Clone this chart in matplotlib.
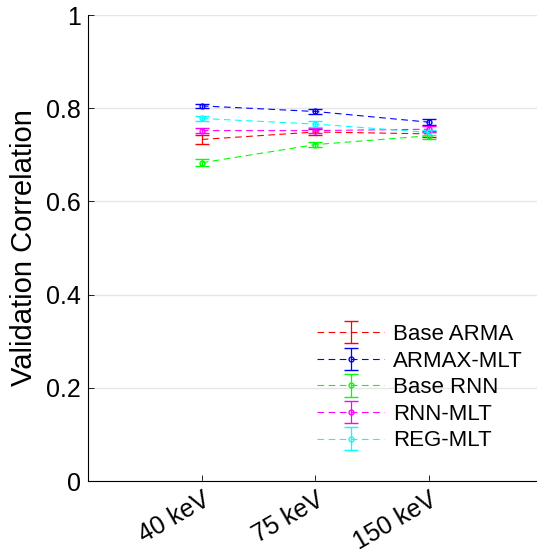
import matplotlib.pyplot as plt
from matplotlib.transforms import ScaledTranslation

plt.rcParams['font.family'] = ['Liberation Sans', 'DejaVu Sans']

energies = ['40 keV', '75 keV', '150 keV']
series_names = ['Base ARMA', 'ARMAX-MLT', 'Base RNN', 'RNN-MLT', 'REG-MLT']
colors = ['#ff0000', '#0000ff', '#00ff00', '#ff00ff', '#00ffff']
markers = ['', 'o', 'o', 'o', 'o']

base_arma = [0.733, 0.749, 0.745]
armax_mlt = [0.805, 0.793, 0.770]
base_rnn = [0.683, 0.722, 0.741]
rnn_mlt = [0.752, 0.752, 0.755]
reg_mlt = [0.778, 0.766, 0.748]

base_arma_err = [0.009, 0.006, 0.007]
armax_mlt_err = [0.005, 0.006, 0.007]
base_rnn_err = [0.007, 0.006, 0.007]
rnn_mlt_err = [0.006, 0.006, 0.006]
reg_mlt_err = [0.006, 0.006, 0.006]

values = [base_arma, armax_mlt, base_rnn, rnn_mlt, reg_mlt]
errors = [base_arma_err, armax_mlt_err, base_rnn_err, rnn_mlt_err, reg_mlt_err]

fig = plt.figure(figsize=(5.37, 5.57), dpi=100)
ax = fig.add_axes([0.164, 0.1364, 0.847, 0.8366])

x = [1, 2, 3]
for name, vals, errs, c, m in zip(series_names, values, errors, colors, markers):
    ax.errorbar(x, vals, yerr=errs, color=c, linestyle=(0, (6, 4)), linewidth=0.8,
                marker=m, markersize=3.5, markerfacecolor='none', markeredgewidth=1,
                capsize=5, elinewidth=0.9, capthick=0.9, label=name)

ax.set_xlim(0, 4)
ax.set_ylim(0, 1)
ax.set_xticks(x)
ax.set_xticklabels(energies, rotation=30, ha='right', rotation_mode='anchor', fontsize=18)
# nudge the rotated labels a bit to the right, like the original
shift = ScaledTranslation(7 / 100, 0, fig.dpi_scale_trans)
for lbl in ax.get_xticklabels():
    lbl.set_transform(lbl.get_transform() + shift)
ax.set_yticks([0, 0.2, 0.4, 0.6, 0.8, 1])
ax.set_yticklabels(['0', '0.2', '0.4', '0.6', '0.8', '1'], fontsize=18)
ax.tick_params(direction='in', length=4, width=0.6, pad=5)
ax.set_ylabel('Validation Correlation', fontsize=21, labelpad=6)
ax.yaxis.grid(True, color='#e6e6e6', linewidth=1)
ax.set_axisbelow(True)
ax.spines['top'].set_visible(False)
ax.spines['right'].set_visible(False)

ax.legend(loc='lower right', bbox_to_anchor=(0.985, 0.035), frameon=False, fontsize=16,
          handlelength=3.0, handletextpad=0.4, labelspacing=0.25, borderaxespad=0.2)

fig.savefig('out.png', dpi=100)
